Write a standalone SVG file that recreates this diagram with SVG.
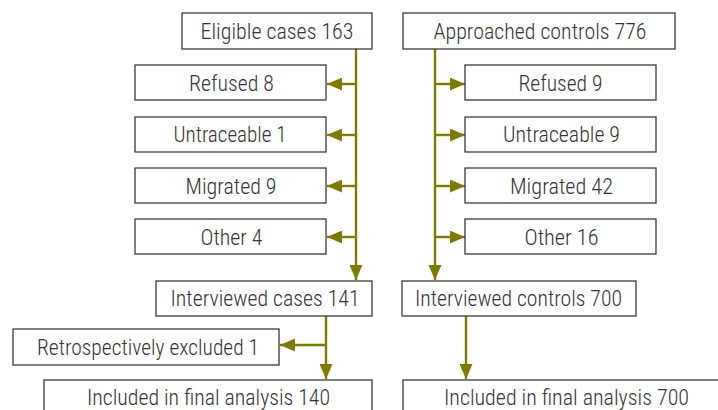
<svg xmlns="http://www.w3.org/2000/svg" width="718" height="410" viewBox="0 0 718 410">
<style>
.box rect{fill:#fff;stroke:#3a3a3a;stroke-width:1.3}
.box text{font-family:"Roboto Condensed",Roboto,"Liberation Sans Narrow","Liberation Sans",sans-serif;font-weight:300;font-size:22px;fill:#333;text-anchor:middle}
.conn line{stroke:#7f7a00;stroke-width:2.4;fill:none}
.conn .a{marker-end:url(#ah)}
</style>
<defs>
<marker id="ah" markerUnits="userSpaceOnUse" markerWidth="16" markerHeight="13" refX="15" refY="6.5" orient="auto">
<path d="M0,0 L15,6.5 L0,13 Z" fill="#7f7a00"/>
</marker>
</defs>
<g class="conn">
<line x1="356" y1="49" x2="356" y2="280" class="a"/>
<line x1="356" y1="84" x2="327" y2="84" class="a"/>
<line x1="356" y1="135" x2="327" y2="135" class="a"/>
<line x1="356" y1="186" x2="327" y2="186" class="a"/>
<line x1="356" y1="237" x2="327" y2="237" class="a"/>
<line x1="435" y1="49" x2="435" y2="280" class="a"/>
<line x1="435" y1="84" x2="465" y2="84" class="a"/>
<line x1="435" y1="135" x2="465" y2="135" class="a"/>
<line x1="435" y1="186" x2="465" y2="186" class="a"/>
<line x1="435" y1="237" x2="465" y2="237" class="a"/>
<line x1="326" y1="316" x2="326" y2="379" class="a"/>
<line x1="326" y1="345" x2="280" y2="345" class="a"/>
<line x1="466" y1="316" x2="466" y2="379" class="a"/>
</g>
<g id="eligible" class="box"><rect x="182" y="13" width="190" height="36"/><text x="277" y="39" textLength="153" lengthAdjust="spacingAndGlyphs">Eligible cases 163</text></g>
<g id="approached" class="box"><rect x="403" y="13" width="272" height="36"/><text x="540" y="39" textLength="213" lengthAdjust="spacingAndGlyphs">Approached controls 776</text></g>
<g id="refused-cases" class="box"><rect x="135" y="65" width="191" height="35"/><text x="231.5" y="91" textLength="85" lengthAdjust="spacingAndGlyphs">Refused 8</text></g>
<g id="untraceable-cases" class="box"><rect x="135" y="117" width="191" height="35"/><text x="230" y="142" textLength="113" lengthAdjust="spacingAndGlyphs">Untraceable 1</text></g>
<g id="migrated-cases" class="box"><rect x="135" y="168" width="191" height="35"/><text x="231" y="194" textLength="91" lengthAdjust="spacingAndGlyphs">Migrated 9</text></g>
<g id="other-cases" class="box"><rect x="135" y="219" width="191" height="35"/><text x="231.5" y="245" textLength="62" lengthAdjust="spacingAndGlyphs">Other 4</text></g>
<g id="refused-controls" class="box"><rect x="465" y="65" width="191" height="35"/><text x="560.5" y="91" textLength="84" lengthAdjust="spacingAndGlyphs">Refused 9</text></g>
<g id="untraceable-controls" class="box"><rect x="465" y="117" width="191" height="35"/><text x="561.5" y="142" textLength="117" lengthAdjust="spacingAndGlyphs">Untraceable 9</text></g>
<g id="migrated-controls" class="box"><rect x="465" y="168" width="191" height="35"/><text x="561.5" y="194" textLength="103" lengthAdjust="spacingAndGlyphs">Migrated 42</text></g>
<g id="other-controls" class="box"><rect x="465" y="219" width="191" height="35"/><text x="561.5" y="245" textLength="74" lengthAdjust="spacingAndGlyphs">Other 16</text></g>
<g id="interviewed-cases" class="box"><rect x="156" y="281" width="216" height="35"/><text x="265" y="306" textLength="189" lengthAdjust="spacingAndGlyphs">Interviewed cases 141</text></g>
<g id="interviewed-controls" class="box"><rect x="402" y="281" width="234" height="35"/><text x="518.5" y="306" textLength="207" lengthAdjust="spacingAndGlyphs">Interviewed controls 700</text></g>
<g id="excluded" class="box"><rect x="13" y="329" width="266" height="36"/><text x="148" y="355" textLength="222" lengthAdjust="spacingAndGlyphs">Retrospectively excluded 1</text></g>
<g id="final-cases" class="box"><rect x="44" y="380" width="328" height="36"/><text x="208.5" y="405" textLength="243" lengthAdjust="spacingAndGlyphs">Included in final analysis 140</text></g>
<g id="final-controls" class="box"><rect x="403" y="380" width="330" height="36"/><text x="566.5" y="405" textLength="245" lengthAdjust="spacingAndGlyphs">Included in final analysis 700</text></g>
</svg>
